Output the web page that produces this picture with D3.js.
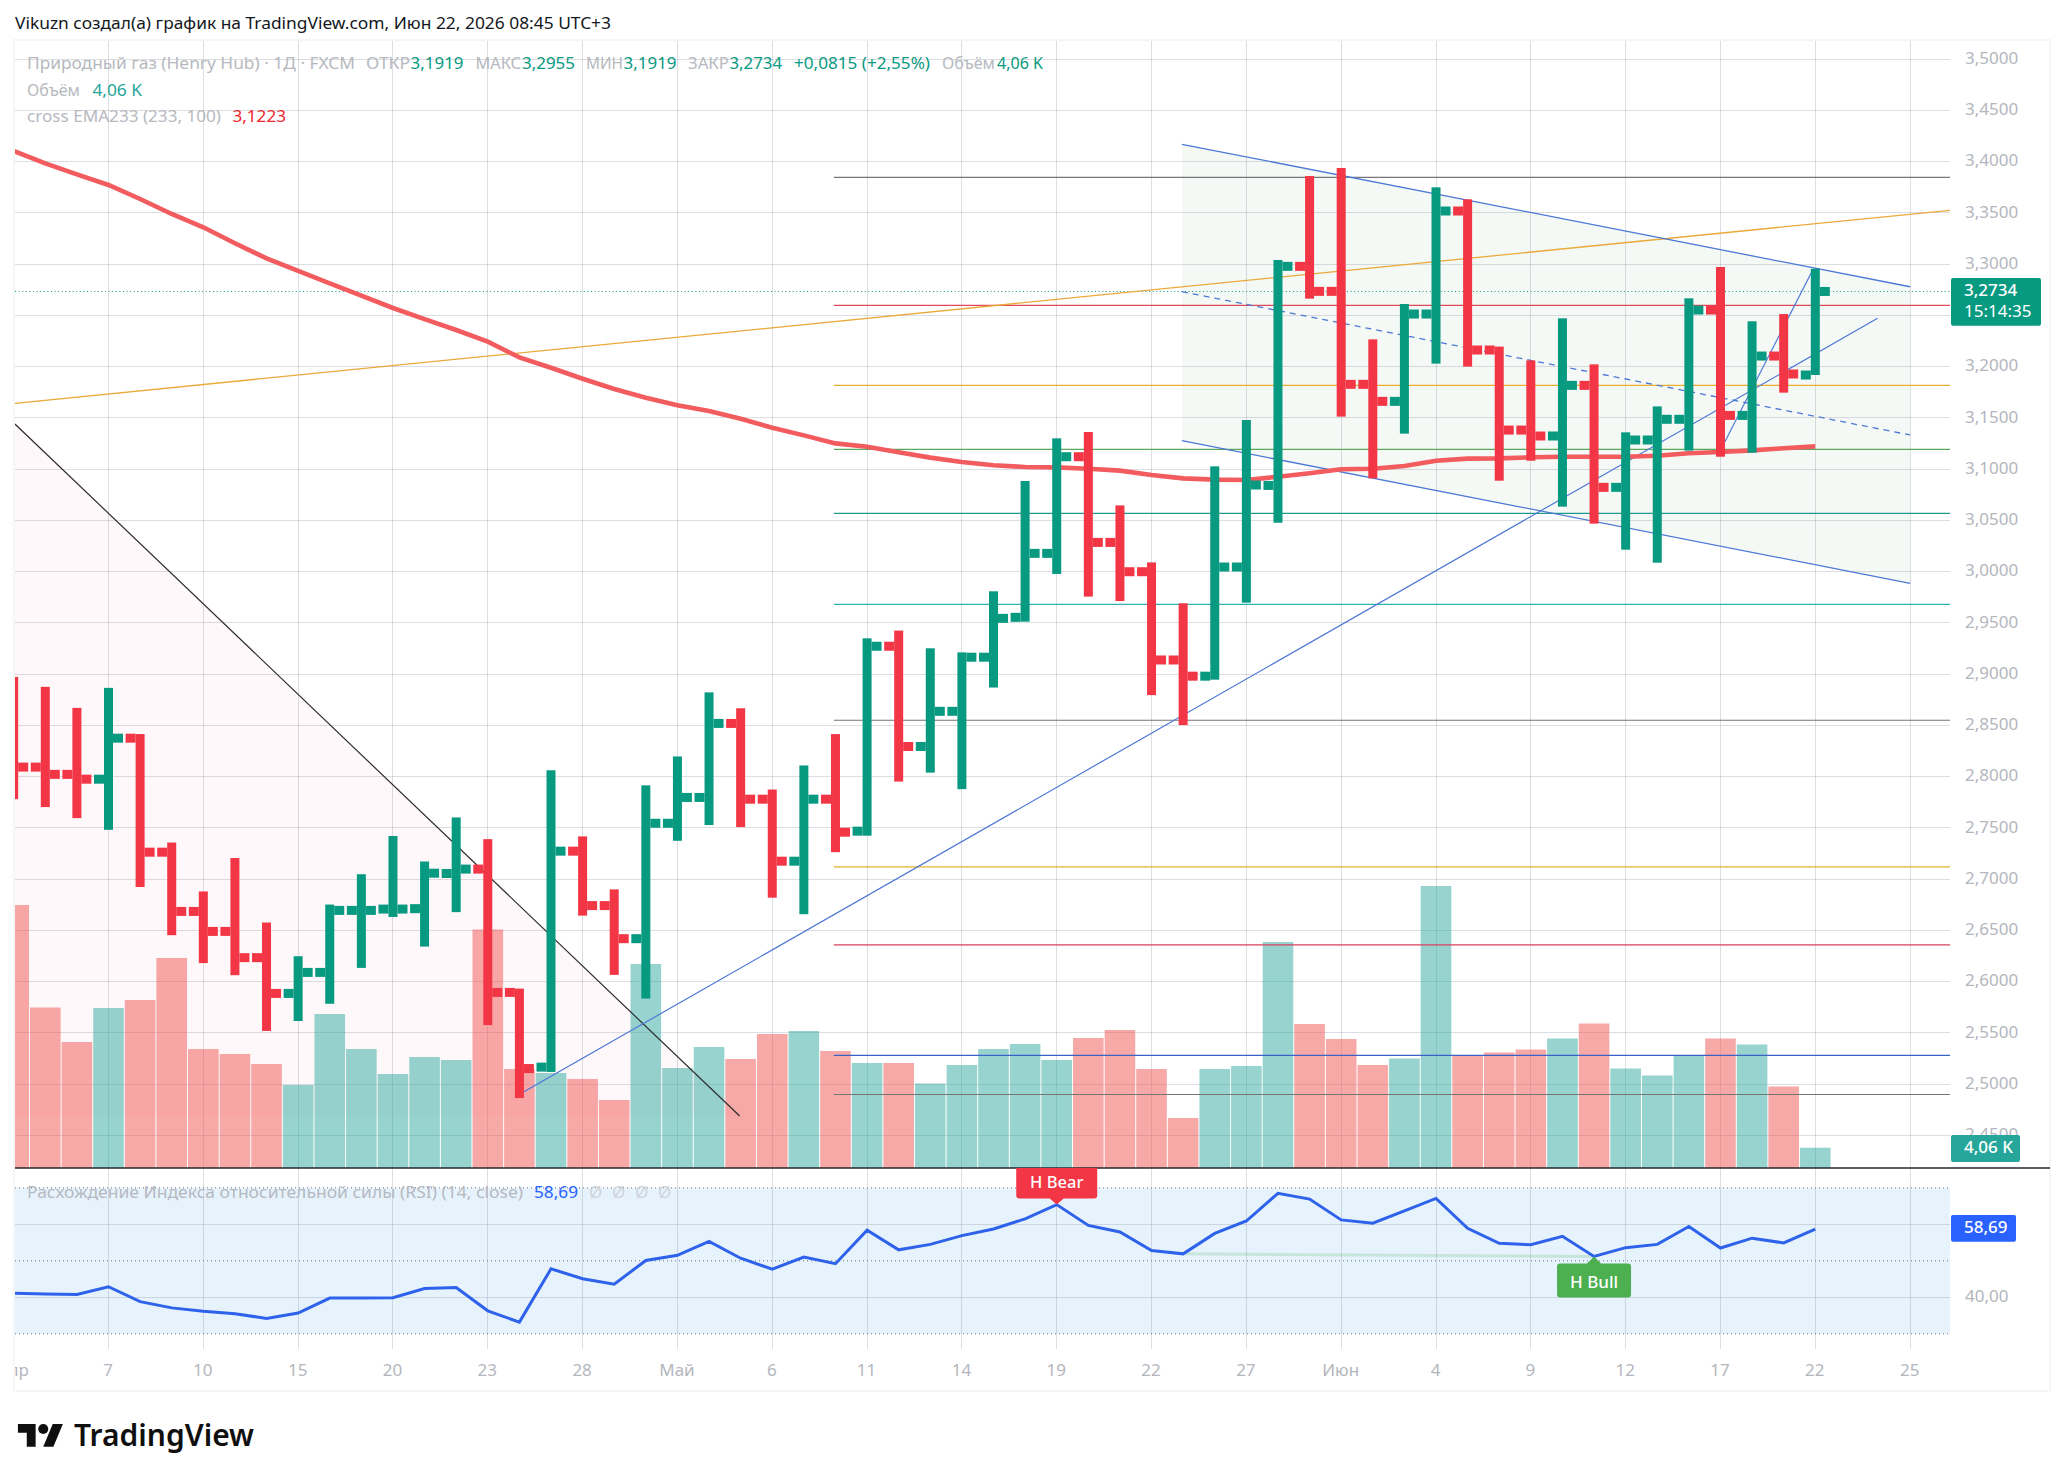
<!DOCTYPE html>
<html lang="ru">
<head>
<meta charset="utf-8">
<title>Природный газ (Henry Hub) · 1Д · FXCM</title>
<script src="https://d3js.org/d3.v7.min.js"></script>
<style>
  html, body { margin: 0; padding: 0; background: #fff; }
  svg { display: block; }
  text { font-family: "Noto Sans", "Open Sans", sans-serif; }
</style>
</head>
<body>
<svg id="chart" width="2064" height="1481"></svg>
<script>
// Daily OHLC bars, oldest first
const opens = [2.85,2.8094,2.8023,2.7976,2.8376,2.7264,2.6686,2.6491,2.6235,2.5886,2.6091,2.6696,2.6709,2.6713,2.7056,2.7099,2.5896,2.5167,2.7274,2.6743,2.642,2.7546,2.7798,2.852,2.7781,2.7176,2.7781,2.7469,2.9273,2.8295,2.8638,2.9166,2.9555,3.0179,3.1122,3.0286,3.0,2.9139,2.8981,3.0046,3.0842,3.2979,3.2735,3.1828,3.1662,3.2514,3.3519,3.2163,3.1382,3.1324,3.1818,3.0823,3.1285,3.1487,3.2553,3.1525,3.2104,3.1919];
const highs = [2.8974,2.8877,2.8672,2.8867,2.8416,2.7358,2.6881,2.7207,2.6578,2.6249,2.6753,2.7049,2.7422,2.7173,2.7603,2.7391,2.5933,2.8063,2.7418,2.6901,2.7916,2.8198,2.8823,2.8668,2.7875,2.811,2.8416,2.935,2.9426,2.9253,2.9213,2.9809,3.0885,3.1301,3.1363,3.0647,3.0091,2.9692,3.1028,3.148,3.3041,3.386,3.3939,3.2267,3.2612,3.375,3.3633,3.2196,3.2062,3.2472,3.2023,3.136,3.1613,3.2667,3.2973,3.2443,3.2514,3.2955];
const lows = [2.7781,2.7704,2.7596,2.7482,2.6924,2.6454,2.6182,2.6064,2.552,2.5617,2.5785,2.6135,2.6632,2.6343,2.6679,2.5577,2.4865,2.512,2.6645,2.6067,2.5836,2.7375,2.7529,2.7509,2.682,2.6659,2.7264,2.7425,2.7953,2.804,2.7879,2.887,2.9513,2.9978,2.9757,2.9714,2.8796,2.8504,2.8947,2.9698,3.0478,3.2664,3.1513,3.0911,3.1347,3.203,3.2001,3.0888,3.1083,3.0635,3.0469,3.0215,3.0088,3.1181,3.1122,3.1161,3.1747,3.1919];
const closes = [2.8094,2.8023,2.7976,2.8376,2.7264,2.6686,2.6491,2.6235,2.5886,2.6091,2.6696,2.6696,2.6709,2.7059,2.7099,2.5896,2.5153,2.7274,2.6743,2.642,2.7546,2.7798,2.852,2.7781,2.7176,2.7781,2.7459,2.9273,2.8295,2.8638,2.9166,2.9545,3.0179,3.1122,3.0286,3.0,2.9139,2.8981,3.0046,3.0846,3.2979,3.2735,3.1828,3.1662,3.2514,3.3519,3.2163,3.1382,3.1324,3.1818,3.0823,3.1285,3.1487,3.2553,3.1525,3.2104,3.1929,3.2734];

// Volume per bar, thousands
const volumes = [52.6,32.1,25.2,32.0,33.6,42.0,23.8,22.8,20.8,16.6,30.8,23.8,18.8,22.2,21.6,47.7,19.8,19.0,17.8,13.6,40.8,20.0,24.2,21.8,26.8,27.4,23.4,21.0,21.0,16.9,20.6,23.8,24.8,21.6,26.0,27.6,19.8,10.0,19.8,20.4,45.2,28.8,25.8,20.6,21.9,56.4,22.5,23.1,23.7,25.9,28.9,19.9,18.5,22.5,25.9,24.7,16.3,4.06];

// EMA 233 overlay
const emaValues = [3.4104,3.3984,3.3877,3.3773,3.3636,3.349,3.336,3.3204,3.3057,3.2934,3.2814,3.2693,3.2573,3.2465,3.2358,3.2244,3.2091,3.199,3.1883,3.1782,3.1698,3.1623,3.1568,3.1493,3.1405,3.133,3.1252,3.122,3.1165,3.1113,3.107,3.1038,3.1022,3.1018,3.1005,3.0986,3.0943,3.0911,3.0898,3.0895,3.0927,3.096,3.0999,3.1005,3.1031,3.1083,3.1103,3.1106,3.1116,3.1122,3.1122,3.1122,3.1132,3.1155,3.1168,3.1184,3.1204,3.1223];

// RSI(14, close)
const rsiValues = [41.1,40.9,40.8,42.9,38.8,37.1,36.2,35.5,34.2,35.7,39.8,39.8,39.9,42.4,42.7,36.3,33.2,47.8,45.1,43.6,50.1,51.5,55.3,50.7,47.7,51.0,49.2,58.4,53.0,54.5,56.9,58.7,61.5,65.4,59.7,57.9,52.8,51.9,57.5,60.9,68.5,66.9,61.2,60.3,63.7,67.1,58.9,54.8,54.4,56.7,51.2,53.6,54.5,59.4,53.5,56.2,54.9,58.69];

// Axis ticks; 3,25 keeps its grid line but its label sits under the price tag
const priceTicks = d3.range(0, 22).map(k => +(3.5 - k * 0.05).toFixed(2));
const priceLabelTicks = priceTicks.filter(v => v !== 3.25);
const timeTickBars = [0,3,6,9,12,15,18,21,24,27,30,33,36,39,42,45,48,51,54,57,60];
const timeTickLabels = ["Апр","7","10","15","20","23","28","Май","6","11","14","19","22","27","Июн","4","9","12","17","22","25"];
const rsiGridValues = [60, 40];
const rsiBandValues = [70, 50, 30];

// Horizontal levels drawn from bar 26 to the right edge
const levelValues = [3.3848,3.2599,3.1818,3.1194,3.0570,2.9682,2.8551,2.7120,2.6360,2.5282,2.4900];
const levelColors = ["#767676","#e0475a","#eaae2c","#5aa85e","#1f9a8a","#2cb5b0","#767676","#e2b32a","#d9415b","#3a62c6","#767676"];
const levelStartBar = 25.95;

// Trend lines as [bar index, price]
const orangeTrend = [[0.04,3.1643],[61.26,3.3526]];
const blackTrend = [[0.04,3.1441],[22.97,2.4690]];
const blueTrend = [[16.13,2.4924],[58.97,3.2472]];
const steepTrend = [[54.14,3.1268],[56.89,3.2927]];
const channelUpper = [[36.96,3.4170],[60,3.2780]];
const channelMiddle = [[36.96,3.2732],[60,3.1334]];
const channelLower = [[36.96,3.1278],[60,2.9887]];

const plotLeft = 15, plotRight = 1950, frameRight = 2050;
const paneTop = 41, paneBottom = 1168, rsiBottom = 1349, frameBottom = 1391;
const GREEN = "#089981", RED = "#F23645";

const svg = d3.select("#chart");
const x = d3.scaleLinear().domain([0, 57]).range([13.68, 1815.3]);
const y = d3.scaleLinear().domain([3.4, 2.45]).range([161.7, 1135.5]);
const yVol = d3.scaleLinear().domain([0, 100]).range([paneBottom, paneBottom - 500]);
const yRsi = d3.scaleLinear().domain([40, 60]).range([1297.3, 1224.3]);
const comma = s => s.replace(".", ",");
const isUp = i => closes[i] >= opens[i];
const pt = ([b, v]) => [x(b), y(v)];

const defs = svg.append("defs");
defs.append("clipPath").attr("id", "paneClip").append("rect")
  .attr("x", plotLeft).attr("y", paneTop).attr("width", plotRight - plotLeft).attr("height", paneBottom - paneTop);
defs.append("clipPath").attr("id", "rsiClip").append("rect")
  .attr("x", plotLeft).attr("y", paneBottom).attr("width", plotRight - plotLeft).attr("height", frameBottom - paneBottom);

// Frame around the chart
svg.append("rect").attr("x", 14).attr("y", 40).attr("width", frameRight - 14).attr("height", frameBottom - 40)
  .attr("fill", "none").attr("stroke", "#f5f6f8").attr("stroke-width", 2);

// Filled drawings and the RSI band sit under the grid
svg.append("path").attr("fill", "#fef8fa")
  .attr("d", d3.line()([pt(blackTrend[0]), pt(blackTrend[1]), [x(blackTrend[0][0]), y(blackTrend[1][1])]]) + "Z");
svg.append("path").attr("fill", "#f5f9f6")
  .attr("d", d3.line()([pt(channelUpper[0]), pt(channelUpper[1]), pt(channelLower[1]), pt(channelLower[0])]) + "Z");
svg.append("rect").attr("x", plotLeft).attr("width", plotRight - plotLeft)
  .attr("y", yRsi(70)).attr("height", yRsi(30) - yRsi(70)).attr("fill", "#e6f3fd");

// Grid
const gridColor = "rgba(120,123,134,0.25)";
const grid = svg.append("g").attr("stroke", gridColor).attr("stroke-width", 1).attr("shape-rendering", "crispEdges");
grid.selectAll(".v").data(timeTickBars.slice(1)).join("line")
  .attr("x1", d => x(d)).attr("x2", d => x(d)).attr("y1", paneTop).attr("y2", rsiBottom);
grid.selectAll(".h").data(priceTicks).join("line")
  .attr("x1", plotLeft).attr("x2", plotRight).attr("y1", d => y(d)).attr("y2", d => y(d));
grid.selectAll(".r").data(rsiGridValues).join("line")
  .attr("x1", plotLeft).attr("x2", plotRight).attr("y1", d => yRsi(d)).attr("y2", d => yRsi(d));

// Main pane
const pane = svg.append("g").attr("clip-path", "url(#paneClip)");

pane.append("g").selectAll("rect").data(volumes).join("rect")
  .attr("x", (d, i) => x(i) - 15.3).attr("width", 30.6)
  .attr("y", d => yVol(d)).attr("height", d => yVol(0) - yVol(d))
  .attr("fill", (d, i) => isUp(i) ? "rgba(38,166,154,0.48)" : "rgba(239,83,80,0.5)");

pane.append("g").selectAll("line").data(levelValues).join("line")
  .attr("x1", x(levelStartBar)).attr("x2", plotRight)
  .attr("y1", d => y(d)).attr("y2", d => y(d))
  .attr("stroke", (d, i) => levelColors[i]).attr("stroke-width", 1.2);

pane.append("line").attr("x1", plotLeft).attr("x2", plotRight)
  .attr("y1", y(closes[57])).attr("y2", y(closes[57]))
  .attr("stroke", GREEN).attr("stroke-width", 1).attr("stroke-dasharray", "1 2.6");

const drawTrend = (pts, color, width, dash) => pane.append("path")
  .attr("d", d3.line()(pts.map(pt))).attr("fill", "none")
  .attr("stroke", color).attr("stroke-width", width).attr("stroke-dasharray", dash || null);
drawTrend(orangeTrend, "#eba93a", 1.3);
drawTrend(blackTrend, "#2c2c2c", 1.2);
drawTrend(blueTrend, "#4c78d6", 1.2);
drawTrend(steepTrend, "#4c78d6", 1.2);
drawTrend(channelUpper, "#4c78d6", 1.3);
drawTrend(channelLower, "#4c78d6", 1.3);
drawTrend(channelMiddle, "#4c78d6", 1.3, "6 5");

pane.append("path")
  .attr("d", d3.line().x((d, i) => x(i)).y(d => y(d))(emaValues))
  .attr("fill", "none").attr("stroke", "#f25c5e").attr("stroke-width", 4.6);

// OHLC bars: stem, open tick to the left, close tick to the right
const bars = pane.append("g").selectAll("g").data(closes).join("g")
  .attr("fill", (d, i) => isUp(i) ? GREEN : RED);
bars.append("rect").attr("x", (d, i) => x(i) - 4.5).attr("width", 9)
  .attr("y", (d, i) => y(highs[i])).attr("height", (d, i) => y(lows[i]) - y(highs[i]));
bars.append("rect").attr("x", (d, i) => x(i) - 14.5).attr("width", 10)
  .attr("y", (d, i) => y(opens[i]) - 4.5).attr("height", 9);
bars.append("rect").attr("x", (d, i) => x(i) + 4.5).attr("width", 10)
  .attr("y", (d, i) => y(closes[i]) - 4.5).attr("height", 9);

// Pane divider
svg.append("line").attr("x1", plotLeft).attr("x2", frameRight).attr("y1", paneBottom).attr("y2", paneBottom)
  .attr("stroke", "#26282c").attr("stroke-width", 1.6);

// RSI pane
const rsiPane = svg.append("g").attr("clip-path", "url(#rsiClip)");
rsiPane.selectAll(".band").data(rsiBandValues).join("line")
  .attr("x1", plotLeft).attr("x2", plotRight).attr("y1", d => yRsi(d)).attr("y2", d => yRsi(d))
  .attr("stroke", "#6f7379").attr("stroke-width", 1).attr("stroke-dasharray", "1 3");
rsiPane.append("line")
  .attr("x1", x(37)).attr("y1", yRsi(rsiValues[37])).attr("x2", x(50)).attr("y2", yRsi(rsiValues[50]))
  .attr("stroke", "rgba(76,175,80,0.2)").attr("stroke-width", 3);
rsiPane.append("path")
  .attr("d", d3.line().x((d, i) => x(i)).y(d => yRsi(d))(rsiValues))
  .attr("fill", "none").attr("stroke", "#2e62ea").attr("stroke-width", 3).attr("stroke-linejoin", "miter");

// Divergence tags point at the RSI line
const bearX = x(33), bearY = yRsi(rsiValues[33]);
rsiPane.append("path").attr("fill", RED)
  .attr("d", `M${bearX - 40.5},${paneBottom} H${bearX + 40.5} V${bearY - 9} q0,3 -3,3 H${bearX + 7} L${bearX},${bearY} L${bearX - 7},${bearY - 6} H${bearX - 37.5} q-3,0 -3,-3 Z`);
svg.append("text").attr("x", bearX).attr("y", 1182).attr("dy", ".35em").attr("text-anchor", "middle")
  .attr("fill", "#fff").attr("font-size", 16.5).attr("font-weight", 500).text("H Bear");
const bullX = x(50), bullY = yRsi(rsiValues[50]);
svg.append("path").attr("fill", "#4caf50")
  .attr("d", `M${bullX - 37},${bullY + 10} q0,-3 3,-3 H${bullX - 7} L${bullX},${bullY} L${bullX + 7},${bullY + 7} H${bullX + 34} q3,0 3,3 V${bullY + 38} q0,3 -3,3 H${bullX - 34} q-3,0 -3,-3 Z`);
svg.append("text").attr("x", bullX).attr("y", 1281.7).attr("dy", ".35em").attr("text-anchor", "middle")
  .attr("fill", "#fff").attr("font-size", 17).attr("font-weight", 500).text("H Bull");

// Axes
const axisGray = "#b4b6bd";
const yAxis = d3.axisRight(y).tickValues(priceLabelTicks).tickSize(0).tickPadding(15)
  .tickFormat(d => comma(d.toFixed(4)));
const yG = svg.append("g").attr("transform", `translate(${plotRight},-1.3)`).call(yAxis);
yG.select(".domain").remove();
yG.selectAll("text").attr("fill", axisGray).attr("font-size", 17)
  .attr("font-family", '"Noto Sans", sans-serif');

const rsiAxis = d3.axisRight(yRsi).tickValues([40]).tickSize(0).tickPadding(15)
  .tickFormat(d => comma(d.toFixed(2)));
const rG = svg.append("g").attr("transform", `translate(${plotRight},-1.5)`).call(rsiAxis);
rG.select(".domain").remove();
rG.selectAll("text").attr("fill", axisGray).attr("font-size", 17)
  .attr("font-family", '"Noto Sans", sans-serif');

const xAxis = d3.axisBottom(x).tickValues(timeTickBars).tickSize(0).tickPadding(14.7)
  .tickFormat(d => timeTickLabels[timeTickBars.indexOf(d)]);
const xG = svg.append("g").attr("clip-path", "url(#rsiClip)").append("g")
  .attr("transform", `translate(-1,${rsiBottom})`).call(xAxis);
xG.select(".domain").remove();
xG.selectAll("text").attr("fill", axisGray).attr("font-size", 17)
  .attr("font-family", '"Noto Sans", sans-serif');

// Last-value labels on the scale
function valueBox(x0, x1, y0, y1, color) {
  svg.append("rect").attr("x", x0).attr("y", y0).attr("width", x1 - x0).attr("height", y1 - y0)
    .attr("rx", 2).attr("fill", color);
}
function boxText(tx, ty, str, weight) {
  svg.append("text").attr("x", tx).attr("y", ty).attr("dy", ".35em").attr("fill", "#fff")
    .attr("font-size", 17).attr("font-weight", weight || 400).text(str);
}
valueBox(1951, 2041, 278, 325.7, GREEN);
boxText(1964, 289.7, comma(closes[57].toFixed(4)), 500);
boxText(1964, 311.2, "15:14:35");
valueBox(1951, 2020, 1135, 1162, "#26a69a");
boxText(1964, 1147.5, comma(volumes[57].toFixed(2)) + " K", 500);
valueBox(1951, 2016, 1215, 1241.7, "#2962ff");
boxText(1964, 1227.5, comma(rsiValues[57].toFixed(2)), 500);

// Legend rows
const LEGEND_GRAY = "#b6b9c0", LEGEND_TEAL = "#089981", VOL_TEAL = "#26a69a";
function legend(tx, ty, str, color, endX) {
  const t = svg.append("text").attr("x", tx).attr("y", ty).attr("dy", ".35em")
    .attr("fill", color).attr("font-size", 17).text(str);
  if (endX) t.attr("textLength", endX - tx).attr("lengthAdjust", "spacingAndGlyphs");
}
const fmt = v => comma(v.toFixed(4));
legend(27, 63.5, "Природный газ (Henry Hub) · 1Д · FXCM", LEGEND_GRAY, 355);
legend(366, 63.5, "ОТКР", LEGEND_GRAY, 410);
legend(410.6, 63.5, fmt(opens[57]), LEGEND_TEAL, 463.5);
legend(475.5, 63.5, "МАКС", LEGEND_GRAY, 521);
legend(522, 63.5, fmt(highs[57]), LEGEND_TEAL, 575);
legend(586, 63.5, "МИН", LEGEND_GRAY, 623);
legend(623.6, 63.5, fmt(lows[57]), LEGEND_TEAL, 676.5);
legend(688, 63.5, "ЗАКР", LEGEND_GRAY, 729);
legend(729.5, 63.5, fmt(closes[57]), LEGEND_TEAL, 782);
legend(794, 63.5, "+0,0815 (+2,55%)", LEGEND_TEAL, 930);
legend(942, 63.5, "Объём", LEGEND_GRAY, 995);
legend(997, 63.5, comma(volumes[57].toFixed(2)) + " K", LEGEND_TEAL, 1043);
legend(27, 90, "Объём", LEGEND_GRAY, 80);
legend(92.4, 90, comma(volumes[57].toFixed(2)) + " K", VOL_TEAL, 142);
legend(27, 116, "cross EMA233 (233, 100)", LEGEND_GRAY, 221);
legend(232.4, 116, fmt(emaValues[57]), "#f0262e", 286);
legend(27, 1192.3, "Расхождение Индекса относительной силы (RSI) (14, close)", LEGEND_GRAY, 523);
legend(534, 1192.3, comma(rsiValues[57].toFixed(2)), "#2962ff", 578);
[589, 612, 635, 658].forEach(px => legend(px, 1192.3, "Ø", "#cfd3d9"));

// Header line
svg.append("text").attr("x", 15).attr("y", 23).attr("dy", ".35em").attr("fill", "#131722")
  .attr("font-size", 16).attr("textLength", 596).attr("lengthAdjust", "spacingAndGlyphs")
  .text("Vikuzn создал(а) график на TradingView.com, Июн 22, 2026 08:45 UTC+3");

// Brand mark and wordmark
const brand = svg.append("g").attr("transform", "translate(17.9,1418.9) scale(1.267)").attr("fill", "#0f0f0f");
brand.append("path").attr("d", "M14 22H7V11H0V4h14v18zM28 22h-8l7.5-18h8L28 22z");
brand.append("circle").attr("cx", 20).attr("cy", 8).attr("r", 4);
svg.append("text").attr("x", 74).attr("y", 1446).attr("fill", "#0f0f0f")
  .attr("font-size", 31).attr("font-weight", 600).attr("textLength", 180).attr("lengthAdjust", "spacingAndGlyphs")
  .text("TradingView");
</script>
</body>
</html>
